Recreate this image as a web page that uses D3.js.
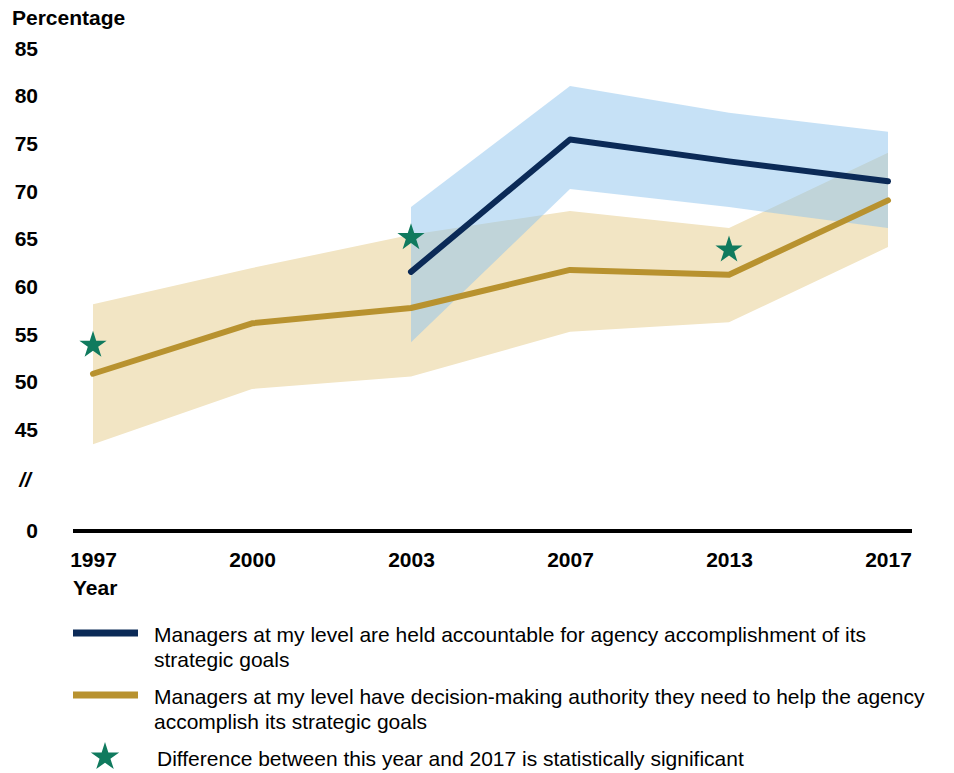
<!DOCTYPE html>
<html><head><meta charset="utf-8">
<script src="https://cdn.jsdelivr.net/npm/d3@7"></script>
<style>
body{margin:0;background:#fff;}
svg{font-family:"Liberation Sans",Arial,sans-serif;}
</style></head>
<body><svg id="chart" width="954" height="773"></svg>
<script>
const years = ["1997","2000","2003","2007","2013","2017"];
const yTicks = [45,50,55,60,65,70,75,80,85];
// Managers held accountable (navy) – not asked before 2003
const accountable      = [null,null,61.5,75.4,73.1,71.0];
const accountableLow   = [null,null,54.1,70.2,68.3,66.1];
const accountableHigh  = [null,null,68.3,81.0,78.2,76.2];
// Managers have decision-making authority (gold)
const authority        = [50.8,56.1,57.7,61.7,61.2,69.0];
const authorityLow     = [43.4,49.2,50.5,55.2,56.2,64.1];
const authorityHigh    = [58.1,61.9,65.4,67.9,66.1,74.0];
// statistically significant markers
const sigYears  = ["1997","2003","2013"];
const sigValues = [53.8,65.1,63.8];
const legendLabels = [
  ["Managers at my level are held accountable for agency accomplishment of its","strategic goals"],
  ["Managers at my level have decision-making authority they need to help the agency","accomplish its strategic goals"],
  ["Difference between this year and 2017 is statistically significant"]
];

const NAVY="#0b2a57", GOLD="#b8922f", GOLDBAND="#f2e5c4", BLUEBAND="#8ec3ee", STAR="#107a5e";
const FS = 21;
const svg = d3.select("#chart");
const x = d3.scalePoint().domain(years).range([93,888]);
const y = d3.scaleLinear().domain([45,85]).range([429,48]);
const baseY = 531;

// y labels
svg.append("text").attr("x",12).attr("y",25).attr("font-weight","bold").attr("font-size",FS).text("Percentage");
const yAxis = d3.axisLeft(y).tickValues(yTicks).tickSize(0).tickPadding(0);
const gy = svg.append("g").attr("transform","translate(38,0)").call(yAxis);
gy.select(".domain").remove();
gy.selectAll("text").attr("font-size",FS).attr("font-weight","bold").attr("fill","#000").attr("font-family","Liberation Sans, Arial, sans-serif").attr("dy","0.35em");
svg.append("text").attr("x",38).attr("y",baseY).attr("dy","0.35em").attr("text-anchor","end").attr("font-size",FS).attr("font-weight","bold").text("0");
svg.append("text").attr("x",25).attr("y",480).attr("dy","0.35em").attr("text-anchor","middle").attr("font-size",FS).attr("font-weight","bold").attr("font-style","italic").text("//");

// bands
function bandData(lo,hi){return years.map((d,i)=>({x:d,lo:lo[i],hi:hi[i]})).filter(d=>d.lo!=null);}
const area = d3.area().x(d=>x(d.x)).y0(d=>y(d.lo)).y1(d=>y(d.hi));
svg.append("path").datum(bandData(authorityLow,authorityHigh)).attr("d",area).attr("fill",GOLDBAND);
svg.append("path").datum(bandData(accountableLow,accountableHigh)).attr("d",area).attr("fill",BLUEBAND).attr("fill-opacity",0.5);

// lines
const line = d3.line().defined(d=>d.v!=null).x(d=>x(d.x)).y(d=>y(d.v));
function lineData(v){return years.map((d,i)=>({x:d,v:v[i]}));}
svg.append("path").datum(lineData(authority)).attr("d",line).attr("fill","none").attr("stroke",GOLD).attr("stroke-width",6).attr("stroke-linecap","round").attr("stroke-linejoin","round");
svg.append("path").datum(lineData(accountable)).attr("d",line).attr("fill","none").attr("stroke",NAVY).attr("stroke-width",6).attr("stroke-linecap","round").attr("stroke-linejoin","round");

// stars
const star = d3.symbol().type(d3.symbolStar).size(230);
svg.selectAll(".star").data(sigYears).enter().append("path")
  .attr("d",star).attr("fill",STAR)
  .attr("transform",(d,i)=>`translate(${x(d)},${y(sigValues[i])})`);

// x axis
const xAxis = d3.axisBottom(x).tickSize(0).tickPadding(0);
const gx = svg.append("g").attr("transform",`translate(0,${baseY})`).call(xAxis);
gx.select(".domain").remove();
gx.selectAll("text").attr("font-size",FS).attr("font-weight","bold").attr("fill","#000").attr("font-family","Liberation Sans, Arial, sans-serif").attr("y",36).attr("dy",0);
svg.append("line").attr("x1",73).attr("x2",912).attr("y1",baseY).attr("y2",baseY).attr("stroke","#000").attr("stroke-width",4);
svg.append("text").attr("x",73).attr("y",595).attr("font-weight","bold").attr("font-size",FS).text("Year");

// legend
const lg = svg.append("g");
const legendRows = [
  {type:"line",color:NAVY,y:633,text:legendLabels[0]},
  {type:"line",color:GOLD,y:695,text:legendLabels[1]},
  {type:"star",color:STAR,y:757,text:legendLabels[2]}
];
legendRows.forEach(r=>{
  if(r.type==="line"){
    lg.append("line").attr("x1",73).attr("x2",138).attr("y1",r.y).attr("y2",r.y).attr("stroke",r.color).attr("stroke-width",7);
  } else {
    lg.append("path").attr("d",d3.symbol().type(d3.symbolStar).size(250)).attr("fill",r.color).attr("transform",`translate(105,${r.y})`);
  }
  const tx = r.type==="line"?154:157;
  const t = lg.append("text").attr("x",tx).attr("y",r.y+9).attr("font-size",FS).attr("fill","#000");
  r.text.forEach((s,i)=>t.append("tspan").attr("x",tx).attr("dy",i===0?0:25).text(s));
});
</script></body></html>
